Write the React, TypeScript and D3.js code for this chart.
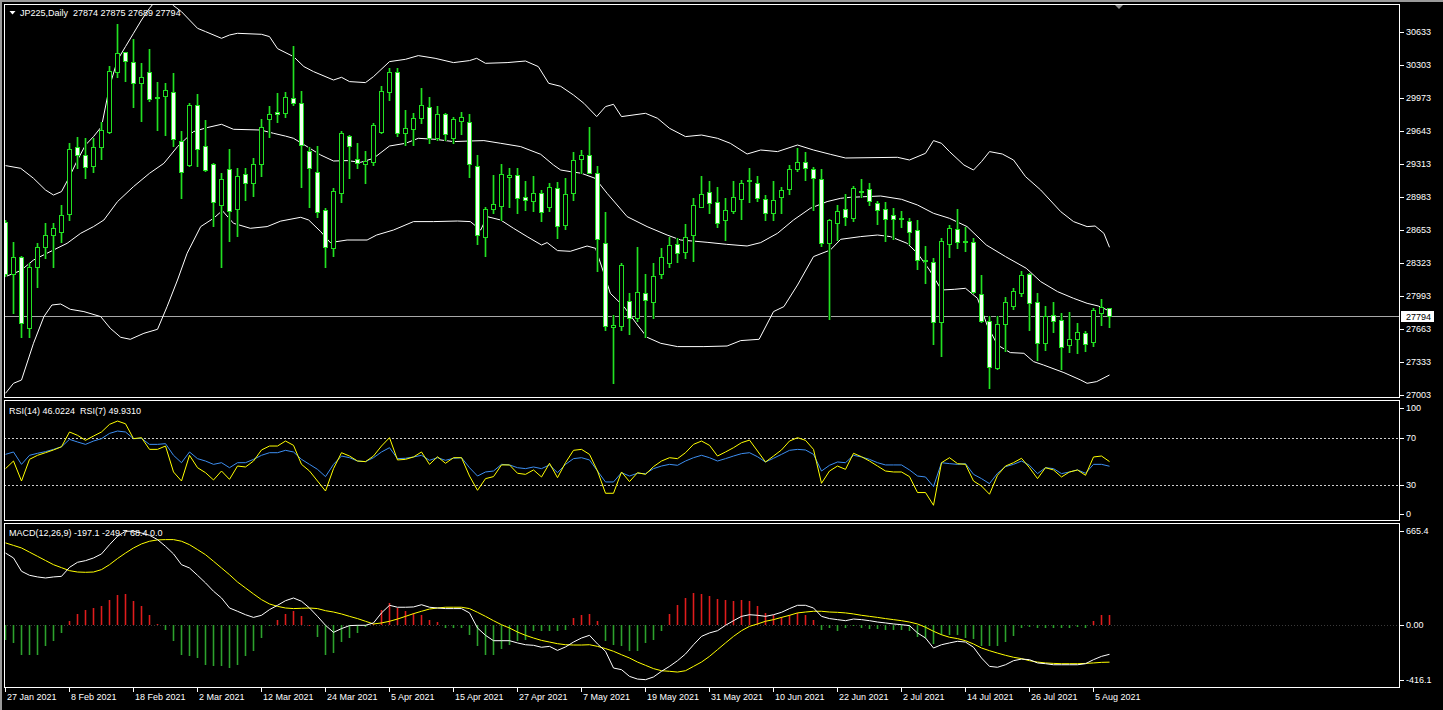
import React from 'react';
import * as d3 from 'd3';

// ---------- DATA ----------
const opens = [
  28740, 28216, 28390, 27673, 28290, 28483, 28603, 28640, 28820, 29483,
  29406, 29300, 29483, 29640, 30239, 30433, 30333, 30123, 30233, 29985,
  30000, 30033, 29550, 29306, 29910, 29493, 29316, 28910, 29266, 28870,
  29213, 29123, 29313, 29763, 29833, 29823, 29979, 29930, 29450, 29233,
  28856, 28473, 29030, 29596, 29370, 29313, 29340, 29640, 30040, 30233,
  29623, 29663, 29773, 29890, 29580, 29820, 29580, 29750, 29733, 29300,
  28590, 28863, 28900, 29183, 29203, 28990, 28946, 29023, 28883, 29073,
  28703, 29023, 29363, 29403, 29230, 28530, 27683, 27696, 27950, 27773,
  28023, 27940, 28216, 28323, 28513, 28433, 28603, 28890, 29033, 28936,
  28756, 28850, 28963, 29148, 29123, 28970, 28830, 28983, 29070, 29266,
  29340, 29270, 29163, 28530, 28730, 28863, 28773, 29040, 29063, 28923,
  28863, 28803, 28773, 28750, 28656, 28353, 28340, 27740, 28516, 28663,
  28546, 28533, 28013, 27746, 27273, 27716, 27900, 28030, 28213, 27940,
  27530, 27803, 27756, 27503, 27563, 27623, 27540, 27830, 27874,
];
const highs = [
  28760, 28533, 28395, 28323, 28523, 28730, 28723, 28906, 29530, 29583,
  29573, 29580, 29740, 30296, 30716, 30440, 30566, 30329, 30463, 30140,
  30123, 30223, 29650, 29923, 30013, 29756, 29330, 29230, 29463, 29280,
  29273, 29373, 29763, 29896, 30030, 30040, 30496, 30046, 29490, 29496,
  28873, 29073, 29646, 29606, 29530, 29446, 29723, 30096, 30273, 30280,
  29856, 29823, 30076, 29983, 29896, 29830, 29783, 29833, 29816, 29403,
  28890, 29206, 29316, 29273, 29273, 29146, 29196, 29056, 29130, 29133,
  29180, 29440, 29456, 29690, 29296, 28836, 27806, 28330, 28023, 28490,
  28216, 28323, 28473, 28583, 28573, 28716, 28973, 29196, 29150, 29090,
  28973, 29150, 29156, 29273, 29196, 29006, 29146, 29090, 29306, 29480,
  29440, 29283, 29263, 28763, 28906, 29016, 29096, 29163, 29123, 28946,
  28940, 28873, 28850, 28780, 28756, 28496, 28373, 28573, 28706, 28863,
  28690, 28573, 28206, 27796, 27796, 27990, 28073, 28250, 28230, 28030,
  27896, 27940, 27830, 27840, 27730, 27650, 27873, 27966, 27875,
];
const lows = [
  28200, 27830, 27590, 27583, 28083, 28373, 28290, 28540, 28756, 29273,
  29173, 29240, 29363, 29623, 30183, 30150, 29890, 29750, 29950, 29656,
  29606, 29496, 28973, 29300, 29296, 29250, 28696, 28290, 28550, 28600,
  28956, 29000, 29196, 29590, 29740, 29790, 29906, 29090, 28890, 28790,
  28283, 28396, 28940, 29180, 29273, 29130, 29306, 29623, 29956, 29596,
  29506, 29506, 29723, 29530, 29556, 29556, 29523, 29616, 29190, 28513,
  28396, 28823, 28756, 28890, 28823, 28856, 28850, 28750, 28850, 28573,
  28670, 28956, 29223, 29223, 28250, 27656, 27130, 27656, 27616, 27750,
  27590, 27773, 28173, 28290, 28340, 28373, 28350, 28883, 28823, 28683,
  28556, 28830, 28763, 28933, 28946, 28756, 28756, 28830, 29013, 29250,
  29156, 28856, 28496, 27763, 28556, 28706, 28750, 28990, 28906, 28716,
  28550, 28566, 28690, 28516, 28263, 28123, 27516, 27396, 28390, 28473,
  28450, 28023, 27740, 27073, 27266, 27446, 27866, 27996, 27656, 27356,
  27456, 27640, 27263, 27440, 27423, 27450, 27496, 27706, 27689,
];
const closes = [
  28215, 28383, 27723, 28290, 28483, 28603, 28680, 28803, 29463, 29406,
  29283, 29490, 29656, 30249, 30423, 30350, 30123, 30183, 29966, 29980,
  30053, 29563, 29233, 29906, 29463, 29256, 28933, 29170, 28843, 29193,
  29123, 29313, 29690, 29820, 29813, 29983, 29923, 29506, 29273, 28833,
  28490, 29050, 29623, 29496, 29323, 29350, 29703, 30043, 30233, 29623,
  29673, 29773, 29903, 29580, 29813, 29613, 29766, 29783, 29313, 28603,
  28863, 28916, 29216, 29206, 28973, 28956, 29023, 28836, 29083, 28696,
  29016, 29353, 29403, 29230, 28563, 27696, 27706, 28306, 27773, 28033,
  27956, 28196, 28390, 28503, 28423, 28590, 28903, 29013, 28923, 28723,
  28856, 28990, 29130, 29152, 28973, 28823, 28956, 29053, 29263, 29333,
  29273, 29173, 28530, 28756, 28843, 28783, 29073, 29050, 28943, 28853,
  28770, 28763, 28766, 28633, 28356, 28346, 27740, 28546, 28673, 28540,
  28536, 28040, 27746, 27290, 27716, 27933, 28046, 28203, 27923, 27530,
  27796, 27746, 27490, 27570, 27633, 27513, 27856, 27883, 27794,
];

// Bollinger bands: [bar, value] readings
const bbUpper: [number, number][] = [
  [0, 29300], [1.9, 29273], [3.5, 29173], [5, 29056], [6, 29006], [7, 29040], [8, 29190], [9, 29356],
  [10, 29506], [11, 29590], [12, 29690], [13, 30090], [14, 30356], [15, 30490], [16, 30623], [17, 30756],
  [18, 30873], [19, 30970], [20, 30980], [21, 30900], [22, 30839], [23, 30756], [24, 30673], [25, 30640],
  [27, 30573], [28, 30606], [29, 30623], [32, 30613], [33, 30590], [34, 30470], [36, 30390], [37.3, 30290],
  [38.5, 30240], [41, 30156], [42, 30183], [43, 30140], [45, 30130], [46, 30190], [48, 30340], [50, 30363],
  [51.6, 30400], [53.7, 30373], [56, 30330], [58, 30350], [58.9, 30373], [60, 30323], [62.7, 30330], [65, 30346],
  [66.6, 30290], [67.9, 30123], [69.4, 30093], [71, 30006], [72.3, 29923], [73.9, 29790], [75, 29890], [76, 29913],
  [77, 29790], [80, 29823], [81.5, 29773], [83, 29673], [85, 29590], [87, 29606], [89, 29573], [90.6, 29523],
  [92.7, 29416], [94.4, 29456], [96.5, 29440], [99, 29506], [101, 29456], [103.1, 29413], [105, 29376], [111.5, 29383],
  [113, 29356], [115, 29423], [116, 29550], [117, 29523], [118, 29440], [119.8, 29306], [121, 29256], [122, 29340],
  [123, 29440], [124.6, 29416], [126, 29356], [127.5, 29190], [129.4, 29056], [131.9, 28840], [133.5, 28740], [135.2, 28690],
  [136.2, 28696], [137.3, 28623], [138, 28483],
];
const bbMiddle: [number, number][] = [
  [0, 28190], [1.9, 28250], [3.5, 28356], [6, 28456], [7.7, 28523], [9.4, 28623], [11, 28690], [12.3, 28756],
  [14, 28940], [16, 29090], [18, 29223], [19.8, 29323], [21.5, 29490], [23.5, 29640], [25.2, 29680], [27, 29713],
  [28.5, 29663], [31.9, 29656], [33.5, 29623], [35, 29595], [36, 29573], [37.7, 29490], [39.4, 29406], [41, 29346],
  [42.7, 29350], [44.4, 29333], [46, 29373], [48, 29496], [50, 29523], [51.6, 29573], [53.7, 29563], [56, 29540],
  [58, 29546], [59.8, 29550], [61.9, 29523], [64.4, 29490], [66.9, 29413], [68.5, 29306], [69.4, 29256], [70.6, 29240],
  [72, 29223], [73.7, 29173], [75.2, 29023], [77.7, 28790], [80.2, 28690], [82.7, 28606], [84.4, 28556], [87.7, 28533],
  [90.1, 28513], [92.7, 28496], [94.4, 28530], [96.5, 28623], [98.5, 28756], [100.6, 28873], [102.7, 28940], [104.4, 28973],
  [105.6, 28983], [109.4, 28996], [112, 28963], [114, 28906], [116, 28823], [118, 28773], [120.2, 28690], [122.6, 28506],
  [125, 28390], [127.6, 28273], [129.4, 28140], [131.5, 28040], [133.5, 27973], [135.2, 27923], [136.6, 27896], [138, 27846],
];
const bbLower: [number, number][] = [
  [0, 27023], [1, 27123], [2, 27156], [3.5, 27523], [4.8, 27790], [5.8, 27906], [6.9, 27916], [8.1, 27863],
  [9.8, 27840], [11.9, 27790], [13.1, 27673], [14.4, 27583], [15.6, 27563], [17.3, 27623], [19, 27663], [20.2, 27890],
  [21.5, 28156], [22.7, 28423], [24.4, 28690], [26, 28773], [27.1, 28850], [28.5, 28723], [30.6, 28673], [32.7, 28690],
  [34.4, 28745], [36.9, 28783], [37.9, 28756], [39.4, 28640], [40.6, 28530], [42.7, 28556], [45.2, 28556], [46.4, 28606],
  [48.5, 28656], [51, 28740], [53.5, 28740], [56.5, 28746], [58.1, 28740], [59.4, 28656], [60.2, 28790], [61.9, 28756],
  [63.5, 28673], [65.2, 28590], [67, 28506], [67.7, 28530], [69, 28450], [70.6, 28443], [72.7, 28496], [73.75, 28473],
  [74.8, 28223], [75.6, 28023], [77.3, 27890], [79, 27706], [80.2, 27583], [81.9, 27523], [84, 27490], [87.3, 27490],
  [90.2, 27496], [91.9, 27550], [94.2, 27563], [96, 27840], [97.3, 27890], [99, 28106], [101, 28390], [103.1, 28456],
  [104.4, 28563], [106.9, 28590], [109, 28606], [110.6, 28590], [112.7, 28523], [114, 28423], [115.5, 28256], [117, 28056],
  [118.6, 28063], [120, 28073], [121.5, 27973], [122.7, 27706], [124, 27506], [125.6, 27430], [127.3, 27423], [128.5, 27340],
  [129.75, 27306], [132.3, 27230], [134.4, 27156], [135.2, 27123], [136.4, 27140], [138, 27206],
];

const rsi7 = [
  44, 50.4, 33.6, 51.8, 55.2, 57.4, 59.7, 62.4, 74.8, 72,
  67.8, 71.4, 74.8, 81.2, 84, 81.7, 69.2, 70, 60.2, 60.2,
  63, 41.2, 33.6, 55.2, 44.8, 40.6, 34.5, 42, 35, 46.2,
  45.4, 50.4, 59.7, 63, 63, 67.2, 63.6, 47.6, 42, 33.6,
  25.2, 44, 57.4, 54.6, 50.4, 49.9, 54.6, 63, 70, 51.3,
  51.8, 53.8, 58, 47.6, 54, 48.5, 53.2, 53.2, 37.8, 25.8,
  35.6, 37.3, 47.1, 47.1, 40.1, 39.2, 42.9, 37, 48.5, 36.4,
  49, 59.4, 60.2, 56, 42, 23.3, 23.3, 41.2, 33.1, 40.6,
  39.2, 45.7, 50.4, 53.2, 52.4, 57.4, 64.4, 67.2, 63.6, 54.6,
  58, 61.6, 65.8, 68, 58.8, 49.6, 54.6, 59.7, 67.2, 70,
  67.8, 60.2, 31.7, 42, 46.2, 43.4, 56.9, 54, 50.4, 46.2,
  42, 41.2, 41.2, 37.3, 23.9, 23.9, 13.2, 49, 53.2, 48.2,
  47.6, 33.6, 29.4, 22.5, 38.4, 46.2, 49, 52.7, 44.8, 35.6,
  44.8, 42.9, 37, 41.2, 42.9, 38.4, 53.8, 54.6, 49.931,
];
const rsi14 = [
  56, 58, 47.6, 55.2, 56.9, 58.3, 60.2, 62.4, 68.6, 66.4,
  64.4, 67.2, 69.2, 73.6, 75.6, 74.8, 69.2, 69.4, 64.4, 64.4,
  65, 55.2, 49, 58, 52.4, 50.4, 47.6, 49, 44.8, 49,
  49, 51.8, 55.2, 57.4, 57.4, 59.4, 58, 51.8, 47.6, 43.4,
  37.3, 47.6, 54.6, 53.2, 50.4, 49.9, 53.2, 58, 61.6, 52.4,
  52.7, 53.8, 55.2, 51, 53.2, 51, 52.7, 53.2, 44.8, 37.8,
  41.2, 42, 47.6, 47.1, 44.8, 44, 45.4, 44, 47.1, 40.6,
  47.6, 52.4, 53.2, 51.3, 42, 32.8, 32.8, 40.6, 37.8, 40.1,
  39.8, 44, 46.2, 47.6, 46.8, 50.4, 53.2, 55.2, 53.2, 50.4,
  52.4, 54.6, 56.6, 57.4, 54, 49.6, 52.7, 56, 59.4, 60.2,
  59.7, 56, 42, 46.8, 49.6, 49, 55.2, 53.8, 51.8, 49,
  47.1, 47.1, 47.1, 42.9, 37.8, 37, 28.9, 49, 48.2, 47.6,
  48.2, 39.2, 35.6, 31.4, 40.1, 45.7, 47.6, 50.4, 46.8, 39.8,
  44.8, 44, 39.8, 41.2, 42.9, 40.1, 47.6, 47.6, 46.0224,
];

const macdMain = [
  481, 448, 359, 332, 321, 314, 321, 325, 385, 419,
  430, 448, 475, 537, 593, 627, 627, 615, 600, 571,
  526, 475, 403, 381, 332, 281, 225, 180, 113, 91,
  68, 50, 64, 102, 131, 162, 180, 158, 113, 57,
  -3, -50, -25, -5, -3, -3, 13, 80, 131, 118,
  118, 120, 135, 118, 113, 109, 109, 109, 80, -21,
  -70, -106, -106, -106, -121, -133, -137, -150, -144, -171,
  -148, -115, -88, -70, -128, -177, -289, -300, -345, -363,
  -367, -349, -311, -278, -240, -195, -133, -77, -54, -39,
  -3, 28, 57, 68, 64, 57, 68, 84, 109, 131,
  131, 113, 57, 42, 35, 28, 39, 35, 28, 19,
  13, 6, 1, -5, -54, -88, -155, -133, -121, -110,
  -115, -150, -222, -278, -284, -267, -240, -229, -233, -255,
  -260, -267, -267, -267, -267, -260, -233, -211, -197.1,
];
const macdSignal = [
  549, 532, 515, 487, 459, 431, 403, 383, 363, 354,
  352, 354, 370, 403, 444, 481, 515, 542, 560, 569,
  571, 571, 560, 537, 504, 470, 426, 381, 336, 287,
  247, 207, 169, 140, 124, 113, 109, 111, 113, 109,
  95, 86, 73, 57, 42, 24, 6, 13, 24, 39,
  57, 75, 91, 106, 113, 118, 118, 118, 109, 84,
  57, 28, 1, -21, -48, -70, -88, -104, -115, -126,
  -133, -135, -135, -133, -144, -159, -177, -200, -222, -249,
  -271, -293, -307, -311, -316, -307, -278, -249, -211, -166,
  -121, -77, -39, -10, 6, 24, 35, 50, 64, 80,
  86, 91, 91, 86, 84, 80, 73, 64, 57, 50,
  42, 35, 28, 19, 6, -16, -43, -66, -83, -92,
  -106, -128, -155, -173, -189, -204, -217, -226, -240, -249,
  -255, -258, -260, -260, -260, -258, -255, -251, -249.7,
];
const macdHist = [
  -100, -121, -200, -200, -200, -144, -110, -54, 24, 73,
  102, 113, 124, 169, 202, 207, 158, 124, 64, 6,
  -32, -110, -200, -211, -222, -267, -278, -278, -289, -267,
  -211, -177, -88, -3, 35, 73, 95, 57, 0, -83,
  -200, -189, -115, -88, -54, -16, 6, 102, 147, 113,
  91, 80, 68, 35, 19, -21, -21, -21, -66, -144,
  -200, -200, -159, -133, -106, -99, -43, -43, -39, -43,
  -32, 46, 64, 73, 24, -106, -133, -144, -177, -177,
  -121, -99, -43, 73, 131, 180, 213, 207, 191, 176,
  169, 162, 169, 158, 124, 80, 68, 50, 64, 80,
  68, 35, -32, -21, -39, -21, -10, -21, -25, -25,
  -32, -32, -32, -43, -83, -88, -128, -70, -66, -70,
  -88, -92, -144, -144, -144, -115, -77, -21, -16, -21,
  -21, -21, -21, -21, -16, -21, 24, 68, 68.4,
];

const priceTicks = [30633, 30303, 29973, 29643, 29313, 28983, 28653, 28323, 27993, 27663, 27333, 27003];
const rsiTicks = [100, 70, 30, 0];
const rsiLevels = [70, 30];
const macdTicks = [665.4, 0, -416.1];
const macdTickLabels = ['665.4', '0.00', '-416.1'];
const dateTickBars = [0, 8, 16, 24, 32, 40, 48, 56, 64, 72, 80, 88, 96, 104, 112, 120, 128, 136];
const dateTickLabels = [
  '27 Jan 2021', '8 Feb 2021', '18 Feb 2021', '2 Mar 2021', '12 Mar 2021', '24 Mar 2021',
  '5 Apr 2021', '15 Apr 2021', '27 Apr 2021', '7 May 2021', '19 May 2021', '31 May 2021',
  '10 Jun 2021', '22 Jun 2021', '2 Jul 2021', '14 Jul 2021', '26 Jul 2021', '5 Aug 2021',
];
const lastPrice = 27794;
const titleText = 'JP225,Daily  27874 27875 27689 27794';
const rsiTitle = 'RSI(14) 46.0224  RSI(7) 49.9310';
const macdTitle = 'MACD(12,26,9) -197.1 -249.7 68.4 0.0';

// ---------- LAYOUT ----------
const W = 1443;
const H = 710;
const L = 4;
const R = 1400;
const MAIN = { top: 4, bottom: 398 };
const RSIP = { top: 400, bottom: 521 };
const MACDP = { top: 523, bottom: 687 };
const LIME = '#22e022';
const LIME_HALO = '#0a4c0a';
const HIST_UP = '#e01c1c';
const HIST_UP_HALO = '#400808';
const HIST_DN = '#2ea02e';
const HIST_DN_HALO = '#0a300a';
const FONT = '"Liberation Sans", Arial, sans-serif';

export default function App() {
  const n = closes.length;
  const x = d3.scaleLinear().domain([0, n - 1]).range([5, 5 + 8 * (n - 1)]);
  const yP = d3.scaleLinear().domain([27003, 30633]).range([395.3, 32.3]);
  const yR = d3.scaleLinear().domain([0, 100]).range([521, 402]);
  const yM = d3.scaleLinear().domain([-416.1, 665.4]).range([687, 525.5]);
  const px = (i: number) => Math.round(x(i));

  const bandLine = d3.line<[number, number]>().x((d) => x(d[0]) + 0.5).y((d) => yP(d[1]));
  const rLine = d3.line<number>().x((_, i) => px(i) + 0.5).y((d) => yR(d));
  const mLine = d3.line<number>().x((_, i) => px(i) + 0.5).y((d) => yM(d));

  const lastY = Math.round(yP(lastPrice)) + 0.5;
  const clampY = (y: number, p: { top: number; bottom: number }) => Math.max(p.top + 8, Math.min(p.bottom - 7, y));
  const zeroY = Math.round(yM(0));

  return (
    <svg
      width={W}
      height={H}
      style={{ position: 'fixed', left: 0, top: 0, background: '#000', display: 'block' }}
      fontFamily={FONT}
      fontSize={9}
    >
      <defs>
        <clipPath id="clipMain"><rect x={L} y={MAIN.top} width={R - L} height={MAIN.bottom - MAIN.top} /></clipPath>
        <clipPath id="clipRsi"><rect x={L} y={RSIP.top} width={R - L} height={RSIP.bottom - RSIP.top} /></clipPath>
        <clipPath id="clipMacd"><rect x={L} y={MACDP.top} width={R - L} height={MACDP.bottom - MACDP.top} /></clipPath>
      </defs>
      <rect x={0} y={0} width={W} height={H} fill="#000" />
      <rect x={0} y={0} width={W} height={2} fill="#9a9a9a" />
      <rect x={0} y={0} width={2} height={H} fill="#9a9a9a" />

      {/* ---------- MAIN PANEL ---------- */}
      <g clipPath="url(#clipMain)">
        <line x1={L} x2={R} y1={lastY} y2={lastY} stroke="#a8a8a8" strokeWidth={1} />
        <path d={bandLine(bbUpper) || ''} fill="none" stroke="#fff" strokeWidth={1} />
        <path d={bandLine(bbMiddle) || ''} fill="none" stroke="#fff" strokeWidth={1} />
        <path d={bandLine(bbLower) || ''} fill="none" stroke="#fff" strokeWidth={1} />
        <g>
          {closes.map((c, i) => {
            const o = opens[i];
            const h = highs[i];
            const l = lows[i];
            const p = px(i);
            const yh = Math.round(yP(h));
            const yl = Math.round(yP(l));
            const top = Math.round(yP(Math.max(o, c)));
            const bot = Math.round(yP(Math.min(o, c)));
            const bull = c >= o;
            return (
              <g key={i}>
                <rect x={p - 1} y={yh} width={3} height={yl - yh + 1} fill={LIME_HALO} />
                <rect x={p} y={yh} width={1} height={yl - yh + 1} fill={LIME} />
                {bot - top < 1 ? (
                  <rect x={p - 2} y={top} width={5} height={1} fill={LIME} />
                ) : (
                  <g>
                    <rect x={p - 2} y={top} width={5} height={bot - top + 1} fill={LIME} />
                    <rect x={p - 1} y={top + 1} width={3} height={Math.max(bot - top - 1, 0)} fill={bull ? '#000' : '#f4fff4'} />
                  </g>
                )}
              </g>
            );
          })}
        </g>
      </g>
      <path d="M1114,4 L1124,4 L1119,9 Z" fill="#8a8a8a" />
      <path d="M9.5,11 L15.5,11 L12.5,14.5 Z" fill="#fff" />
      <text x={20} y={16} fill="#fff" style={{ whiteSpace: 'pre' }}>{titleText}</text>

      {/* ---------- RSI PANEL ---------- */}
      <g clipPath="url(#clipRsi)">
        {rsiLevels.map((v) => (
          <line key={v} x1={L} x2={R} y1={Math.round(yR(v)) + 0.5} y2={Math.round(yR(v)) + 0.5} stroke="#cfcfcf" strokeDasharray="2,2" />
        ))}
        <path d={rLine(rsi14) || ''} fill="none" stroke="#3d8ef0" strokeWidth={1} />
        <path d={rLine(rsi7) || ''} fill="none" stroke="#ffff00" strokeWidth={1} />
      </g>
      <text x={9} y={414} fill="#fff" style={{ whiteSpace: 'pre' }}>{rsiTitle}</text>

      {/* ---------- MACD PANEL ---------- */}
      <g clipPath="url(#clipMacd)">
        <line x1={L} x2={R} y1={zeroY + 0.5} y2={zeroY + 0.5} stroke="#3a3a3a" strokeDasharray="1,2" />
        <g>
          {macdHist.map((v, i) => {
            const yv = Math.round(yM(v));
            const y0 = Math.min(yv, zeroY);
            const hh = Math.max(Math.abs(yv - zeroY), 1);
            const up = v >= 0;
            return (
              <g key={i}>
                <rect x={px(i) - 1} y={y0} width={3} height={hh} fill={up ? HIST_UP_HALO : HIST_DN_HALO} />
                <rect x={px(i)} y={y0} width={1} height={hh} fill={up ? HIST_UP : HIST_DN} />
              </g>
            );
          })}
        </g>
        <path d={mLine(macdSignal) || ''} fill="none" stroke="#ffff00" strokeWidth={1} />
        <path d={mLine(macdMain) || ''} fill="none" stroke="#fff" strokeWidth={1} />
      </g>
      <text x={9} y={536} fill="#fff" style={{ whiteSpace: 'pre' }}>{macdTitle}</text>

      {/* ---------- FRAMES ---------- */}
      <g fill="none" stroke="#fff" shapeRendering="crispEdges">
        <rect x={L + 0.5} y={MAIN.top + 0.5} width={R - L - 1} height={MAIN.bottom - MAIN.top - 1} />
        <rect x={L + 0.5} y={RSIP.top + 0.5} width={R - L - 1} height={RSIP.bottom - RSIP.top - 1} />
        <rect x={L + 0.5} y={MACDP.top + 0.5} width={R - L - 1} height={MACDP.bottom - MACDP.top} />
      </g>

      {/* ---------- RIGHT AXES ---------- */}
      <g fill="#fff" shapeRendering="crispEdges">
        {priceTicks.map((v) => {
          const y = yP(v);
          return (
            <g key={v}>
              <line x1={R} x2={R + 4} y1={Math.round(y) + 0.5} y2={Math.round(y) + 0.5} stroke="#fff" />
              <text x={R + 6} y={y} dy="0.35em">{v}</text>
            </g>
          );
        })}
        <rect x={R + 1} y={lastY - 5.5} width={33} height={11} fill="#fff" />
        <text x={R + 6} y={lastY} dy="0.35em" fill="#000">{lastPrice}</text>
        {rsiTicks.map((v) => {
          const y = clampY(yR(v), RSIP);
          return (
            <g key={v}>
              <line x1={R} x2={R + 4} y1={Math.round(y) + 0.5} y2={Math.round(y) + 0.5} stroke="#fff" />
              <text x={R + 6} y={y} dy="0.35em">{v}</text>
            </g>
          );
        })}
        {macdTicks.map((v, k) => {
          const y = clampY(yM(v), MACDP);
          return (
            <g key={v}>
              <line x1={R} x2={R + 4} y1={Math.round(y) + 0.5} y2={Math.round(y) + 0.5} stroke="#fff" />
              <text x={R + 6} y={y} dy="0.35em">{macdTickLabels[k]}</text>
            </g>
          );
        })}
      </g>

      {/* ---------- DATE AXIS ---------- */}
      <g fill="#fff" shapeRendering="crispEdges">
        {dateTickBars.map((b, k) => (
          <g key={b}>
            <line x1={px(b) + 0.5} x2={px(b) + 0.5} y1={MACDP.bottom} y2={MACDP.bottom + 5} stroke="#fff" />
            <text x={px(b) + 2} y={700}>{dateTickLabels[k]}</text>
          </g>
        ))}
      </g>
    </svg>
  );
}
